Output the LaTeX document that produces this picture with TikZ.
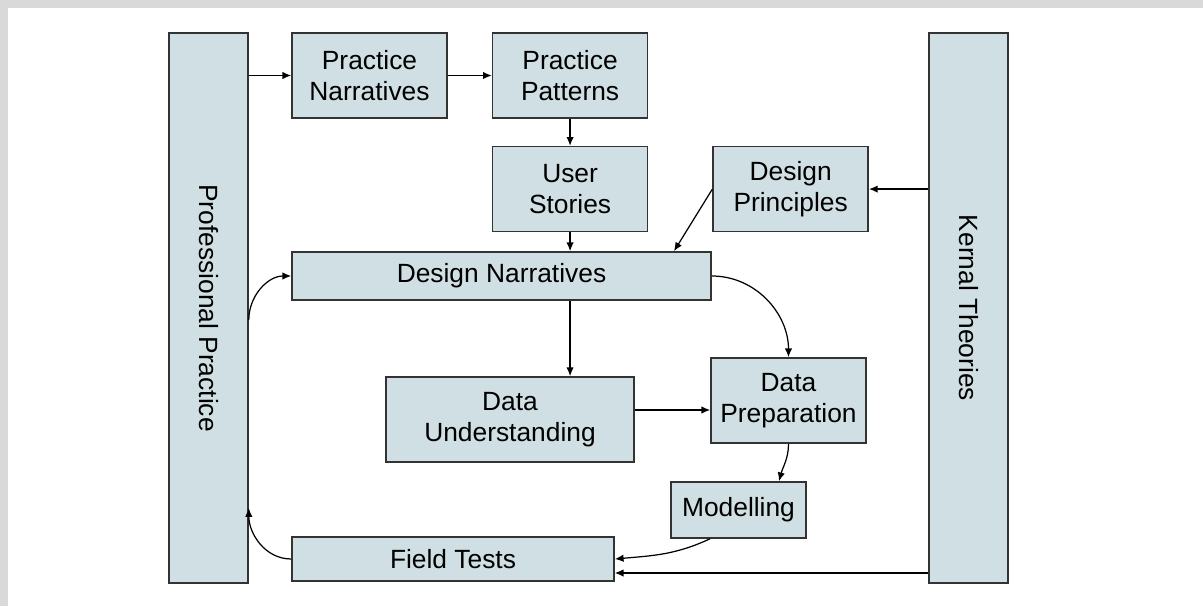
\documentclass[tikz,border=0pt]{standalone}
\usepackage{graphicx}
\usepackage{fontspec}
\setmainfont{Liberation Sans}
\usetikzlibrary{arrows.meta, positioning}
\definecolor{frameGray}{RGB}{217,217,217}
\definecolor{boxFill}{RGB}{208,223,227}
\definecolor{boxInk}{RGB}{51,51,51}

\begin{document}
\begin{tikzpicture}[
      box/.style={draw=boxInk, fill=boxFill, line width=0.9pt, inner sep=0pt, align=center,
      font=\fontsize{15}{17.6}\selectfont},
      smallbox/.style={box, minimum width=3.1cm, minimum height=1.7cm},
      sidebar/.style={box, minimum width=1.58cm, minimum height=11cm},
      arrow/.style={-{Latex[length=5pt,width=4.2pt]}, line width=0.7pt, draw=black}
    ]
    % page frame
    \useasboundingbox (0,0) rectangle (24.06,-12.12);
    \fill[frameGray] (0,0) rectangle (24.06,-0.16);
    \fill[frameGray] (0,0) rectangle (0.16,-12.12);

    \node[sidebar] (prof) at (4.17,-6.16) {\rotatebox{-90}{Professional Practice}};
    \node[sidebar] (kern) at (19.37,-6.16) {\rotatebox{-90}{Kernal Theories}};

    \node[smallbox] (narr) at (7.39,-1.51) {Practice\\Narratives};
    \node[smallbox, right=0.88cm of narr] (pat) {Practice\\Patterns};
    \node[smallbox, below=0.54cm of pat] (stories) {User\\Stories};
    \node[smallbox, right=1.28cm of stories] (princ) {Design\\Principles};
    \node[box, minimum width=8.38cm, minimum height=0.96cm] (dnarr) at (10.03,-5.52) {Design Narratives};
    \node[box, minimum width=4.96cm, minimum height=1.7cm] (under) at (10.2,-8.39) {Data\\Understanding};
    \node[smallbox] (prep) at (15.77,-8.01) {Data\\Preparation};
    \node[box, minimum width=2.7cm, minimum height=1.12cm] (model) at (14.77,-10.2) {Modelling};
    \node[box, minimum width=6.44cm, minimum height=0.88cm] (field) at (9.06,-11.18) {Field Tests};

    \coordinate (ufrom) at ([yshift=0.19cm]under.east);
    \coordinate (fin) at ([yshift=-0.28cm]field.east);

    \draw[arrow] (prof.east |- narr.west) -- (narr.west);
    \draw[arrow] (narr) -- (pat);
    \draw[arrow] (pat) -- (stories);
    \draw[arrow] (stories.south) -- (stories.south |- dnarr.north);
    \draw[arrow] (kern.west |- princ.east) -- (princ.east);
    \draw[arrow] (princ.west) -- ([xshift=3.45cm]dnarr.north);
    \draw[arrow] (stories.south |- dnarr.south) -- (stories.south |- under.north);
    \draw[arrow] (dnarr.east) to[out=0, in=90] (prep.north);
    \draw[arrow] (ufrom) -- (ufrom -| prep.west);
    \draw[arrow] (prep.south) to[out=-90, in=75] ([xshift=0.81cm]model.north);
    \draw[arrow] ([xshift=-0.57cm]model.south) to[out=-155, in=5] (field.east);
    \draw[arrow] (kern.west |- fin) -- (fin);
    \draw[arrow] (field.west) to[out=180, in=-90] ([yshift=-4cm]prof.east);
    \draw[arrow] ([yshift=-0.24cm]prof.east) to[out=90, in=180] (dnarr.west);
  \end{tikzpicture}
\end{document}
